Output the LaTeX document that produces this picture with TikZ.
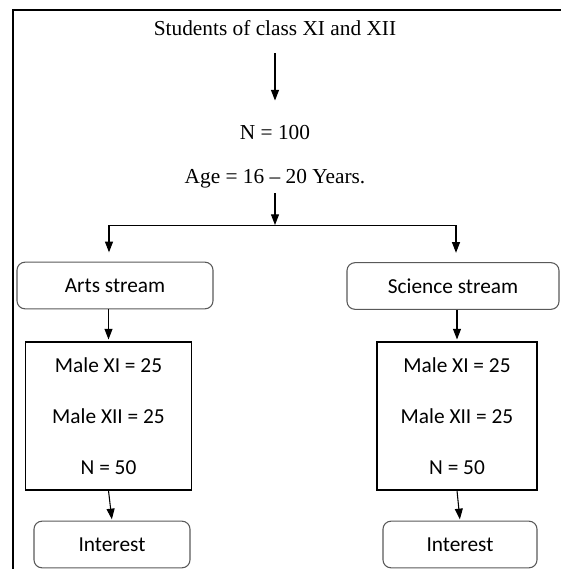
\documentclass[tikz,border=0pt]{standalone}
\usepackage{fontspec}
\setmainfont{Liberation Serif}
\newfontfamily\calibri{Carlito}
\usetikzlibrary{arrows.meta,positioning}

\begin{document}
\begin{tikzpicture}[x=0.75pt,y=-0.75pt, every node/.style={font=\fontsize{16}{19}\selectfont,align=center,inner sep=0pt},
  stream/.style={rounded corners=6pt,draw=black!65,line width=0.8pt,minimum height=35pt,font=\calibri\fontsize{16}{19}\selectfont},
  group/.style={draw=black,line width=0.8pt,minimum height=111pt,font=\calibri\fontsize{16}{38.5}\selectfont},
  arr/.style={-{Triangle[length=8pt,width=6pt]},draw=black,line width=0.8pt}]
  \useasboundingbox (0,0) rectangle (561,569);
  \draw[line width=1.5pt] (13,569) -- (13,10) -- (561,10);
  % sample
  \node[anchor=base] (title) at (275,35) {Students of class XI and XII};
  \node[anchor=base] (total) at (275,139) {N = 100};
  \node[anchor=base] (age) at (275,183) {Age = 16 -- 20 Years.};
  \coordinate (split) at (275,225);
  \coordinate (bl) at (109,225);
  \coordinate (br) at (456,225);
  % streams
  \node[stream,minimum width=147pt] (arts) at (115,285.5) {Arts stream};
  \node[stream,minimum width=159pt] (sci) at (453,286) {Science stream};
  \node[group,minimum width=124pt] (artsgrp) at (108.5,416) {Male XI = 25\\Male XII = 25\\N = 50};
  \node[group,minimum width=120pt] (scigrp) at (457,416) {Male XI = 25\\Male XII = 25\\N = 50};
  \node[stream,minimum width=117pt] (artsint) at (112,544.5) {Interest};
  \node[stream,minimum width=115.5pt] (sciint) at (460,544.5) {Interest};
  \draw[arr,shorten <=13.5pt,shorten >=18pt] (title.south) -- (total.north);
  \draw[arr,shorten <=4pt] (age.south) -- (split);
  \draw (bl) -- (br);
  \draw[arr,shorten >=7pt] (bl) -- (bl |- arts.north);
  \draw[arr,shorten >=7pt] (br) -- (br |- sci.north);
  \draw[arr,shorten >=1.5pt] (artsgrp.north |- arts.south) -- (artsgrp.north);
  \draw[arr,shorten >=1.5pt] (scigrp.north |- sci.south) -- (scigrp.north);
  \draw[arr,shorten >=1pt] (artsgrp.south) -- (artsint.north);
  \draw[arr,shorten >=1pt] (scigrp.south) -- (sciint.north);
\end{tikzpicture}
\end{document}
